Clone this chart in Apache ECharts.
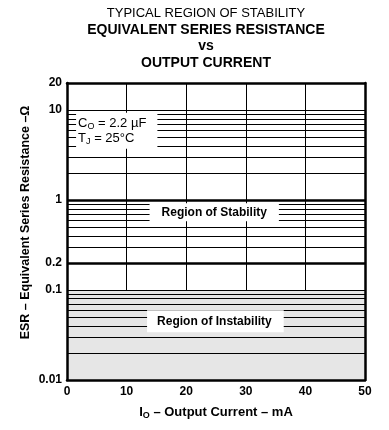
<!DOCTYPE html>
<html>
<head>
<meta charset="utf-8">
<script src="https://cdn.jsdelivr.net/npm/echarts@6/dist/echarts.min.js"></script>
<style>html,body{margin:0;padding:0;background:#fff}#c{width:389px;height:430px}</style>
</head>
<body>
<div id="c"></div>
<script>
// ---- data ----
const titleLines = ['TYPICAL REGION OF STABILITY', 'EQUIVALENT SERIES RESISTANCE', 'vs', 'OUTPUT CURRENT'];
const xRange = [0, 50];
const xInterval = 10;
const yRange = [0.01, 20];
const yTickLabels = [20, 10, 1, 0.2, 0.1, 0.01];
const yGridLines = [0.02, 0.03, 0.04, 0.05, 0.06, 0.07, 0.08, 0.09,
                    0.1, 0.2, 0.3, 0.4, 0.5, 0.6, 0.7, 0.8, 0.9,
                    1, 2, 3, 4, 5, 6, 7, 8, 9, 10];
const stabilityBounds = [0.2, 1];
const instabilityRange = [0.01, 0.1];
const conditionCo = '2.2 µF';
const conditionTj = '25°C';

// ---- chart ----
const FONT = "'Liberation Sans', Arial, sans-serif";
const chart = echarts.init(document.getElementById('c'), null, {renderer: 'canvas'});

const tops = [7, 23, 39, 56];
const title = titleLines.map((t, i) => ({
  text: t, left: 206, top: tops[i], textAlign: 'center', padding: 0,
  textStyle: {fontFamily: FONT, fontSize: i === 0 ? 13 : 14, fontWeight: i === 0 ? 'normal' : 'bold', color: '#000'}
}));

const frameLine = {show: true, onZero: false, lineStyle: {color: '#000', width: 2.5}};
const hidden = {axisTick: {show: false}, axisLabel: {show: false}, splitLine: {show: false}};

const gridLineItems = yGridLines.map(v => ({
  yAxis: v,
  lineStyle: {width: stabilityBounds.includes(v) ? 2.5 : 1},
  label: {show: false}
}));
const tickLabelItems = yTickLabels.map(v => ({
  yAxis: v,
  lineStyle: {width: 1, color: 'rgba(0,0,0,0)'},
  label: {show: true, formatter: String(v)}
}));

const labelBase = {color: '#000', fontFamily: FONT, fontWeight: 'bold', fontSize: 12, opacity: 1};

const option = {
  animation: false,
  title: title,
  grid: {left: 67, right: 24, top: 83, bottom: 50, show: false},
  xAxis: [
    {type: 'value', min: xRange[0], max: xRange[1], interval: xInterval, position: 'bottom',
     axisLine: {show: false}, axisTick: {show: false},
     axisLabel: {color: '#000', fontFamily: FONT, fontWeight: 'bold', fontSize: 12, margin: 6},
     splitLine: {show: true, lineStyle: {color: '#000', width: 1}},
     name: '{a|I}{s|O}{a| – Output Current – mA}', nameLocation: 'middle', nameGap: 24,
     nameTextStyle: {rich: {
       a: {fontFamily: FONT, fontWeight: 'bold', fontSize: 13, color: '#000', lineHeight: 16},
       s: {fontFamily: FONT, fontWeight: 'bold', fontSize: 9, color: '#000', lineHeight: 9, verticalAlign: 'bottom'}
     }}},
    Object.assign({type: 'value', min: xRange[0], max: xRange[1], position: 'top', z: 10, axisLine: frameLine}, hidden),
    Object.assign({type: 'value', min: xRange[0], max: xRange[1], position: 'bottom', z: 10, axisLine: frameLine}, hidden)
  ],
  yAxis: [
    Object.assign({type: 'log', logBase: 10, min: yRange[0], max: yRange[1], position: 'left',
     axisLine: {show: false},
     name: 'ESR – Equivalent Series Resistance –Ω', nameLocation: 'middle', nameRotate: 90, nameGap: 35,
     nameTextStyle: {fontFamily: FONT, fontWeight: 'bold', fontSize: 12.5, color: '#000', padding: [0, 0, 0, 18]}}, hidden),
    Object.assign({type: 'log', logBase: 10, min: yRange[0], max: yRange[1], position: 'left', z: 10, axisLine: frameLine}, hidden),
    Object.assign({type: 'log', logBase: 10, min: yRange[0], max: yRange[1], position: 'right', z: 10, axisLine: frameLine}, hidden)
  ],
  series: [
    {type: 'line', data: [], z: 1, silent: true,
     markArea: {silent: true, itemStyle: {color: '#e6e6e6'},
       data: [[{xAxis: xRange[0], yAxis: instabilityRange[0]}, {xAxis: xRange[1], yAxis: instabilityRange[1]}]]}},
    {type: 'line', data: [], z: 2, silent: true,
     markLine: {silent: true, symbol: ['none', 'none'], animation: false,
       lineStyle: {color: '#000', type: 'solid', width: 1, opacity: 1},
       label: Object.assign({position: 'start', distance: 5}, labelBase),
       emphasis: {disabled: true},
       data: gridLineItems.concat(tickLabelItems)}},
    {type: 'scatter', z: 5, silent: true, symbolSize: 1, itemStyle: {color: 'rgba(0,0,0,0)', opacity: 1},
     emphasis: {disabled: true},
     data: [
       {value: [24.7, 0.73], label: Object.assign({show: true, position: 'inside', formatter: 'Region of Stability',
         backgroundColor: '#fff', padding: [3, 12, 3, 12]}, labelBase)},
       {value: [24.9, 0.045], label: Object.assign({show: true, position: 'inside', formatter: 'Region of Instability',
         backgroundColor: '#fff', padding: [5, 12, 5, 10]}, labelBase)},
       {value: [0.6, 5.9], label: {show: true, position: 'right', distance: 5, opacity: 1,
         formatter: '{a|C}{s|O}{a| = ' + conditionCo + '}\n{a|T}{s|J}{a| = ' + conditionTj + '}',
         backgroundColor: '#fff', padding: [3, 11, 3, 2],
         rich: {
           a: {fontFamily: FONT, fontSize: 13, color: '#000', lineHeight: 15},
           s: {fontFamily: FONT, fontSize: 9, color: '#000', lineHeight: 9, verticalAlign: 'bottom'}
         }}}
     ]}
  ]
};
chart.setOption(option);
</script>
</body>
</html>
